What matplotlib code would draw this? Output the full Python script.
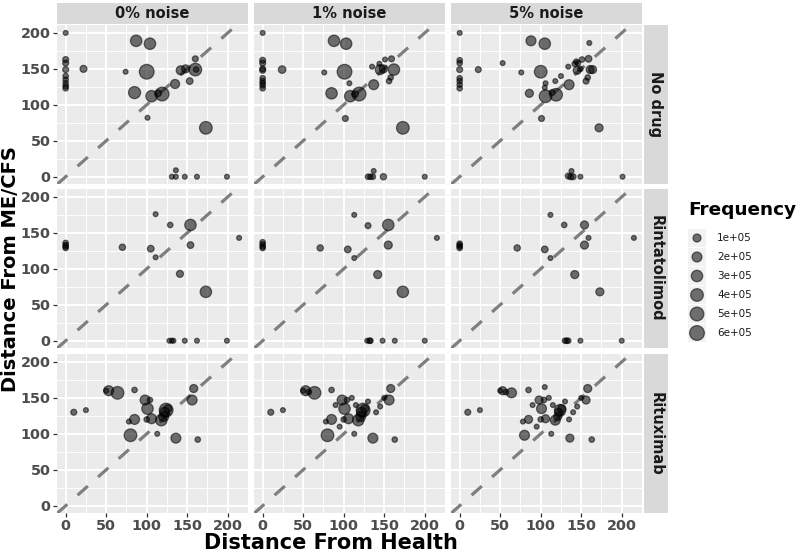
import numpy as np
import matplotlib.pyplot as plt

# facet labels
noise_labels = ['0% noise', '1% noise', '5% noise']
drug_labels = ['No drug', 'Rintatolimod', 'Rituximab']
legend_freqs = [1e5, 2e5, 3e5, 4e5, 5e5, 6e5]
legend_texts = ['1e+05', '2e+05', '3e+05', '4e+05', '5e+05', '6e+05']
ticks = [0, 50, 100, 150, 200]

# ---- No drug (frequency in units of 1e5)
nodrug0_x = [0, 0, 0, 0, 0, 0, 0, 0, 0, 22, 74, 87, 104, 100, 85, 106, 114, 119, 101,
             135, 142, 148, 160, 153, 160, 161, 173, 131, 136, 136, 147, 162, 199]
nodrug0_y = [200, 163, 158, 149, 140, 135, 130, 126, 123, 150, 146, 189, 185, 146, 117, 112, 116, 115, 82,
             129, 148, 150, 164, 133, 149, 149, 68, 0, 0, 9, 0, 0, 0]
nodrug0_f = [.1, .3, .3, .3, .2, .2, .2, .2, .2, .6, .1, 3, 3, 6, 3.5, 3, .5, 5, .1,
             1.5, 1.5, 1, .3, .5, 4, .2, 4, .1, .1, .1, .1, .1, .1]

nodrug1_x = [0, 0, 0, 0, 0, 0, 0, 0, 0, 0, 24, 76, 88, 103, 101, 107, 85, 108, 114, 119, 102,
             137, 135, 145, 149, 144, 151, 159, 162, 156, 158, 173, 130, 133, 136, 137, 149, 200]
nodrug1_y = [200, 162, 158, 150, 148, 137, 133, 130, 127, 123, 149, 145, 189, 185, 146, 130, 116, 112, 115, 115, 81,
             128, 153, 149, 150, 157, 163, 164, 149, 133, 138, 68, 0, 0, 0, 8, 0, 0]
nodrug1_f = [.1, .3, .3, .3, .3, .2, .2, .2, .2, .2, .8, .1, 3, 3, 6, .1, 3, 3, .5, 5, .3,
             2, .1, 2, 1, .1, .1, .3, 3, .2, .2, 4, .2, .2, .2, .1, .4, .1]

nodrug2_x = [0, 0, 0, 0, 0, 0, 0, 0, 23, 53, 76, 88, 105, 100, 106, 105, 118, 125, 86, 106, 114, 119, 101,
             135, 134, 142, 144, 146, 151, 160, 159, 145, 149, 161, 164, 158, 156, 172, 134, 137, 140, 138, 149, 201]
nodrug2_y = [200, 162, 158, 149, 137, 133, 128, 123, 149, 158, 145, 189, 185, 146, 130, 124, 133, 140, 116, 112, 117, 114, 81,
             128, 153, 157, 160, 158, 163, 186, 164, 148, 150, 149, 149, 138, 133, 68, 1, 0, 0, 8, 0, 0]
nodrug2_f = [.1, .2, .2, .3, .2, .2, .2, .2, .3, .1, .1, 2, 3, 4, .1, .1, .1, .1, 1, 4, .3, 4, .3,
             2, .1, .2, .2, .2, .2, .1, .5, 1, .2, 1, 1, .2, .3, 1, .3, .3, .3, .1, .1, .1]

# ---- Rintatolimod
rinta0_x = [0, 0, 0, 0, 70, 105, 111, 111, 129, 154, 154, 141, 173, 214, 128, 131, 133, 147, 162, 199]
rinta0_y = [136, 133, 131, 129, 130, 128, 176, 116, 161, 161, 133, 93, 68, 143, 0, 0, 0, 0, 0, 0]
rinta0_f = [.2, .2, .2, .2, .4, .5, .1, .1, .2, 3, .5, .6, 3, .1, .1, .1, .1, .1, .1, .1]

rinta1_x = [0, 0, 0, 0, 71, 105, 113, 113, 130, 155, 155, 142, 173, 215, 129, 132, 133, 148, 163, 200]
rinta1_y = [137, 134, 131, 129, 129, 127, 175, 115, 160, 161, 133, 92, 68, 143, 0, 0, 0, 0, 0, 0]
rinta1_f = [.2, .2, .2, .2, .4, .5, .1, .1, .3, 3, 1, 1, 3, .1, .1, .2, .2, .1, .1, .1]

rinta2_x = [0, 0, 0, 0, 71, 105, 112, 112, 129, 154, 159, 154, 142, 173, 215, 130, 132, 134, 149, 200]
rinta2_y = [135, 133, 131, 129, 129, 127, 175, 115, 161, 161, 143, 133, 92, 68, 143, 0, 0, 0, 0, 0]
rinta2_f = [.2, .2, .2, .2, .4, .5, .1, .1, .2, 1, .1, 1, 1, 1, .1, .2, .2, .2, .1, .1]

# ---- Rituximab
ritux0_x = [10, 25, 50, 53, 64, 85, 80, 85, 78, 98, 101, 104, 106, 100, 113, 118, 121, 124, 126, 122, 136, 156, 158, 163]
ritux0_y = [130, 133, 160, 160, 157, 161, 98, 120, 117, 147, 135, 147, 121, 120, 100, 119, 124, 133, 135, 130, 94, 147, 163, 92]
ritux0_f = [.3, .1, .1, 2, 4, .2, 4, 2, .1, 2, 3, .2, 2, .2, .1, 3, 2, 5, 1, 2, 2, 2, 1, .2]

ritux1_x = [10, 25, 50, 53, 57, 64, 85, 80, 85, 78, 98, 101, 104, 106, 100, 113, 118, 121, 124, 126, 122,
            136, 156, 158, 163, 90, 110, 130, 140, 145, 150, 95, 115]
ritux1_y = [130, 133, 160, 160, 158, 157, 161, 98, 120, 117, 147, 135, 147, 121, 120, 100, 119, 124, 133, 135, 130,
            94, 147, 163, 92, 140, 150, 145, 130, 138, 150, 110, 140]
ritux1_f = [.3, .1, .1, 2, .2, 4, .2, 4, 2, .1, 2, 3, .2, 2, .2, .1, 3, 2, 5, 1, 2,
            2, 2, 1, .2, .1, .1, .1, .1, .1, .1, .1, .1]

ritux2_x = [10, 25, 50, 53, 57, 64, 85, 80, 85, 78, 98, 101, 104, 106, 100, 113, 118, 121, 124, 126, 122,
            136, 156, 158, 163, 90, 110, 130, 140, 145, 150, 95, 115, 105, 135]
ritux2_y = [130, 133, 160, 160, 158, 157, 161, 98, 120, 117, 147, 135, 147, 121, 120, 100, 119, 124, 133, 135, 130,
            94, 147, 163, 92, 140, 150, 145, 130, 138, 150, 110, 140, 165, 120]
ritux2_f = [.3, .1, .1, 1, .2, 2, .2, 2, 1, .1, 1, 2, .2, 1, .2, .1, 2, 1, 3, 1, 1,
            1, 1, 1, .2, .1, .1, .1, .1, .1, .1, .1, .1, .1, .1]

panels = [
    [(nodrug0_x, nodrug0_y, nodrug0_f), (nodrug1_x, nodrug1_y, nodrug1_f), (nodrug2_x, nodrug2_y, nodrug2_f)],
    [(rinta0_x, rinta0_y, rinta0_f), (rinta1_x, rinta1_y, rinta1_f), (rinta2_x, rinta2_y, rinta2_f)],
    [(ritux0_x, ritux0_y, ritux0_f), (ritux1_x, ritux1_y, ritux1_f), (ritux2_x, ritux2_y, ritux2_f)],
]


def marker_area(freq):
    # area scale like ggplot scale_size: diameter grows with sqrt(freq)
    d_px = 3.4 + 11.8 * np.sqrt(np.asarray(freq, float) / 6.5e5)
    return (d_px * 0.72) ** 2


W, H = 800, 555
fig = plt.figure(figsize=(8, 5.55), dpi=100)
plt.rcParams['font.family'] = 'DejaVu Sans'

col_left = [57, 254, 451]
row_top = [25, 189, 354]
pw, ph = 191, 159
xlim = (-10.7, 224.7)
ylim = (-10.1, 211)

for r in range(3):
    for c in range(3):
        ax = fig.add_axes([col_left[c] / W, 1 - (row_top[r] + ph) / H, pw / W, ph / H])
        ax.set_facecolor('#ebebeb')
        for s in ax.spines.values():
            s.set_visible(False)
        ax.set_xlim(xlim)
        ax.set_ylim(ylim)
        ax.set_xticks(ticks)
        ax.set_yticks(ticks)
        ax.set_xticks([25, 75, 125, 175, 225], minor=True)
        ax.set_yticks([25, 75, 125, 175], minor=True)
        ax.grid(which='major', color='white', lw=1.4)
        ax.grid(which='minor', color='white', lw=0.7)
        ax.set_axisbelow(True)
        ax.tick_params(which='minor', length=0)
        ax.tick_params(which='major', length=3, width=0.9, color='#333333',
                       labelsize=10.4, labelcolor='#4d4d4d', pad=1.5)
        for lab in ax.get_xticklabels() + ax.get_yticklabels():
            lab.set_fontweight('bold')
        if c > 0:
            ax.tick_params(axis='y', left=False, labelleft=False)
        if r < 2:
            ax.tick_params(axis='x', bottom=False, labelbottom=False)

        ax.plot(xlim, xlim, color='#7f7f7f', lw=2.3, dashes=(4.3, 4.3), zorder=2)

        x, y, f = panels[r][c]
        ax.scatter(x, y, s=marker_area(np.array(f) * 1e5), c='black', alpha=0.55,
                   edgecolors='black', linewidths=0.9, zorder=3)

# overlay in pixel coordinates for strips, titles and legend
ov = fig.add_axes([0, 0, 1, 1], zorder=-1)
ov.set_xlim(0, W)
ov.set_ylim(H, 0)
ov.axis('off')
for c in range(3):
    ov.add_patch(plt.Rectangle((col_left[c], 3), pw, 21, color='#d9d9d9', lw=0))
    ov.text(col_left[c] + pw / 2, 14, noise_labels[c], ha='center', va='center',
            fontsize=10.5, fontweight='bold', color='#1a1a1a')
for r in range(3):
    ov.add_patch(plt.Rectangle((644, row_top[r]), 24, ph, color='#d9d9d9', lw=0))
    ov.text(656, row_top[r] + ph / 2, drug_labels[r], ha='center', va='center', rotation=-90,
            fontsize=10.5, fontweight='bold', color='#1a1a1a')

ov.text(331, 543, 'Distance From Health', ha='center', va='center',
        fontsize=15, fontweight='bold', color='black')
ov.text(11, 269, 'Distance From ME/CFS', ha='center', va='center', rotation=90,
        fontsize=14, fontweight='bold', color='black')

# legend
ov.text(688, 210, 'Frequency', ha='left', va='center', fontsize=13.3,
        fontweight='bold', color='black')
key_y = 238 + 19 * np.arange(len(legend_freqs))
for ky, lt in zip(key_y, legend_texts):
    ov.add_patch(plt.Rectangle((688, ky - 9), 18, 18, color='#f2f2f2', lw=0))
    ov.text(717, ky, lt, ha='left', va='center', fontsize=7.5, color='#1a1a1a')
leg = fig.add_axes([0, 0, 1, 1])
leg.set_xlim(0, W)
leg.set_ylim(H, 0)
leg.axis('off')
leg.scatter(np.full(len(key_y), 697), key_y, s=marker_area(legend_freqs), c='black',
            alpha=0.55, edgecolors='black', linewidths=0.9)

fig.savefig('out.png', dpi=100)
